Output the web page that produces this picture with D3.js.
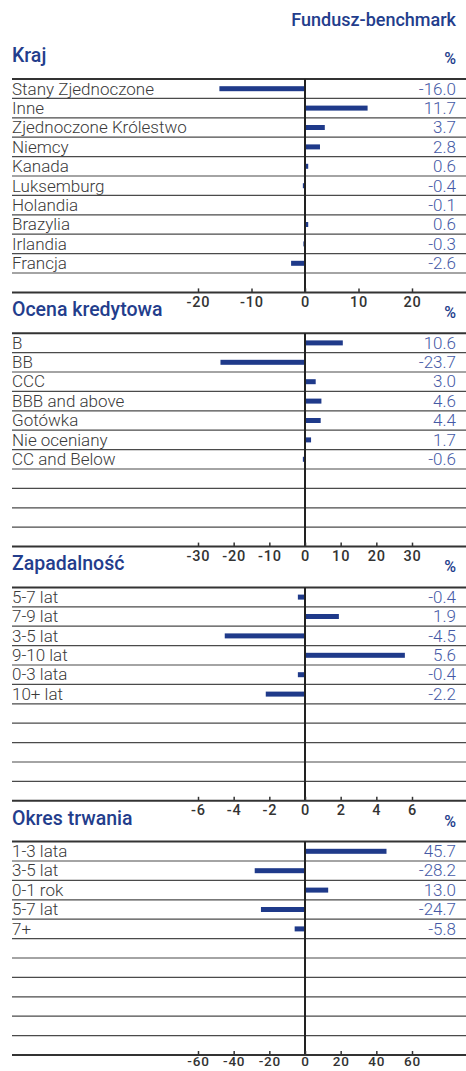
<!DOCTYPE html>
<html>
<head>
<meta charset="utf-8">
<script src="https://cdn.jsdelivr.net/npm/d3@7"></script>
<style>
body { margin: 0; background: #fff; }
text { font-family: Roboto, "DejaVu Sans", sans-serif; }
</style>
</head>
<body>
<div id="chart-area"></div>
<script>
// Data
var krajCategories = ["Stany Zjednoczone", "Inne", "Zjednoczone Królestwo", "Niemcy", "Kanada",
    "Luksemburg", "Holandia", "Brazylia", "Irlandia", "Francja"];
var krajValues = [-16.0, 11.7, 3.7, 2.8, 0.6, -0.4, -0.1, 0.6, -0.3, -2.6];
var krajTicks = [-20, -10, 0, 10, 20];

var ocenaCategories = ["B", "BB", "CCC", "BBB and above", "Gotówka", "Nie oceniany", "CC and Below"];
var ocenaValues = [10.6, -23.7, 3.0, 4.6, 4.4, 1.7, -0.6];
var ocenaTicks = [-30, -20, -10, 0, 10, 20, 30];

var zapadCategories = ["5-7 lat", "7-9 lat", "3-5 lat", "9-10 lat", "0-3 lata", "10+ lat"];
var zapadValues = [-0.4, 1.9, -4.5, 5.6, -0.4, -2.2];
var zapadTicks = [-6, -4, -2, 0, 2, 4, 6];

var okresCategories = ["1-3 lata", "3-5 lat", "0-1 rok", "5-7 lat", "7+"];
var okresValues = [45.7, -28.2, 13.0, -24.7, -5.8];
var okresTicks = [-60, -40, -20, 0, 20, 40, 60];

var sections = [
    { title: "Kraj", categories: krajCategories, values: krajValues, ticks: krajTicks },
    { title: "Ocena kredytowa", categories: ocenaCategories, values: ocenaValues, ticks: ocenaTicks },
    { title: "Zapadalność", categories: zapadCategories, values: zapadValues, ticks: zapadTicks },
    { title: "Okres trwania", categories: okresCategories, values: okresValues, ticks: okresTicks }
];

var width = 466, height = 1071;
var left = 12, right = 466, valueX = 456;
var rowH = 19.4, nRows = 11, firstTop = 79, step = 254.2;
var plotL = 198, plotR = 412;

var navy = "#1f3a8a";
var valueBlue = "#4459a5";

var svg = d3.select("#chart-area")
    .append("svg")
    .attr("width", width)
    .attr("height", height);

svg.append("text")
    .attr("x", valueX)
    .attr("y", 26)
    .attr("text-anchor", "end")
    .attr("font-size", "18px")
    .attr("font-weight", 500)
    .attr("fill", "#233d8c")
    .text("Fundusz-benchmark");

sections.forEach(function (s, i) {
    var top = firstTop + i * step;
    var g = svg.append("g")
        .attr("transform", "translate(0," + top + ")");

    var x = d3.scaleLinear()
        .domain(d3.extent(s.ticks))
        .range([plotL, plotR]);

    var y = d3.scaleBand()
        .domain(d3.range(nRows))
        .range([0, nRows * rowH]);

    // title + %
    g.append("text")
        .attr("x", left)
        .attr("y", -17)
        .attr("font-size", "19.5px")
        .attr("font-weight", 500)
        .attr("fill", "#233d8c")
        .text(s.title);

    g.append("text")
        .attr("x", valueX)
        .attr("y", -15)
        .attr("text-anchor", "end")
        .attr("font-size", "16px")
        .attr("font-weight", 500)
        .attr("fill", "#233d8c")
        .text("%");

    // row lines
    g.selectAll("line.row")
        .data(d3.range(1, nRows))
        .enter().append("line")
        .attr("class", "row")
        .attr("x1", left)
        .attr("x2", right)
        .attr("y1", function (k) { return y(k); })
        .attr("y2", function (k) { return y(k); })
        .attr("stroke", "#4a4a4a")
        .attr("stroke-width", 1.2);

    g.append("line")
        .attr("x1", left)
        .attr("x2", right)
        .attr("y1", 0)
        .attr("y2", 0)
        .attr("stroke", "#333")
        .attr("stroke-width", 2);

    // bars
    g.selectAll("rect.bar")
        .data(s.values)
        .enter().append("rect")
        .attr("class", "bar")
        .attr("x", function (d) { return x(Math.min(0, d)); })
        .attr("width", function (d) { return Math.abs(x(d) - x(0)); })
        .attr("y", function (d, k) { return y(k) + rowH / 2 - 2.5; })
        .attr("height", 5)
        .attr("fill", navy);

    // zero line
    g.append("line")
        .attr("x1", x(0))
        .attr("x2", x(0))
        .attr("y1", 0)
        .attr("y2", nRows * rowH)
        .attr("stroke", "#222")
        .attr("stroke-width", 2);

    // category labels
    g.selectAll("text.cat")
        .data(s.categories)
        .enter().append("text")
        .attr("class", "cat")
        .attr("x", left)
        .attr("y", function (d, k) { return y(k) + 15.5; })
        .attr("font-size", "17px")
        .attr("font-weight", 300)
        .attr("fill", "#3a3a3a")
        .text(function (d) { return d; });

    // values
    g.selectAll("text.val")
        .data(s.values)
        .enter().append("text")
        .attr("class", "val")
        .attr("x", valueX)
        .attr("y", function (d, k) { return y(k) + 15.5; })
        .attr("text-anchor", "end")
        .attr("font-size", "17px")
        .attr("font-weight", 300)
        .attr("fill", valueBlue)
        .text(function (d) { return d.toFixed(1); });

    // axis line + ticks
    g.append("line")
        .attr("x1", left)
        .attr("x2", right)
        .attr("y1", nRows * rowH)
        .attr("y2", nRows * rowH)
        .attr("stroke", "#333")
        .attr("stroke-width", 2);

    var last = (i === sections.length - 1);
    var xAxisCall = d3.axisBottom(x)
        .tickValues(s.ticks)
        .tickSize(-4)
        .tickPadding(last ? 1 : 4)
        .tickFormat(function (d) { return String(d); });

    var ax = g.append("g")
        .attr("transform", "translate(0," + (nRows * rowH) + ")")
        .call(xAxisCall);
    ax.select(".domain").remove();
    ax.selectAll("line").attr("stroke", "#333").attr("stroke-width", 1.5);
    ax.selectAll("text")
        .attr("font-family", "Roboto, sans-serif")
        .attr("font-size", last ? "13.5px" : "14.5px")
        .attr("font-weight", 500)
        .attr("letter-spacing", "0.8px")
        .attr("fill", "#333");
});
</script>
</body>
</html>
